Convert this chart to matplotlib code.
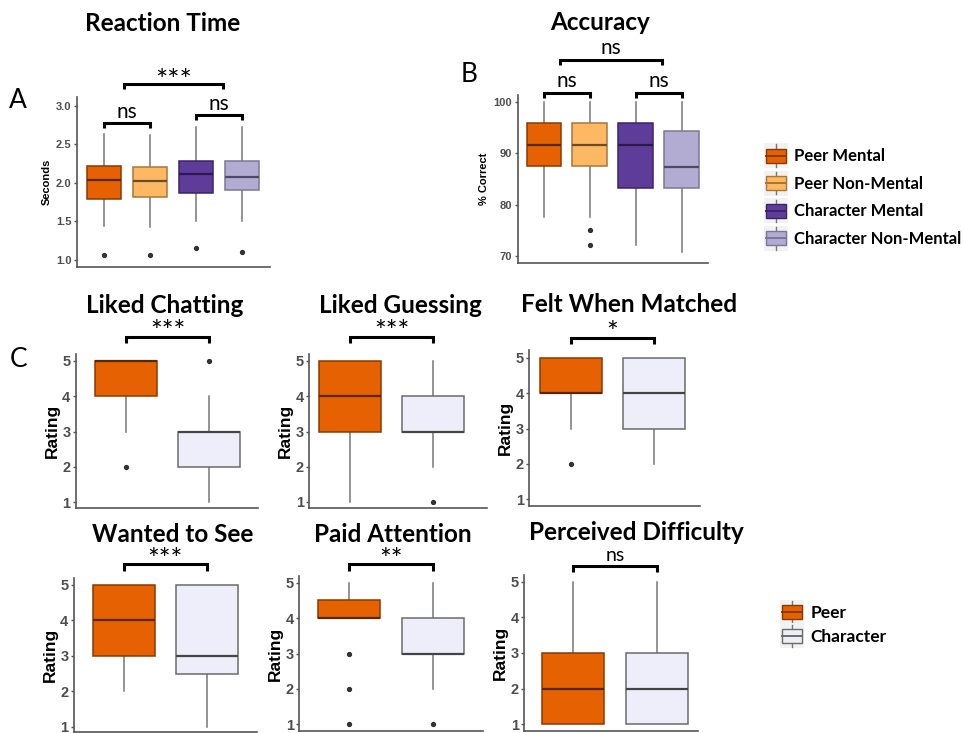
import matplotlib
matplotlib.use("Agg")
import matplotlib.pyplot as plt
from matplotlib.patches import Patch, Rectangle
from matplotlib.lines import Line2D
from matplotlib.legend_handler import HandlerBase

# ---- data ----
conditions = ["Peer Mental", "Peer Non-Mental", "Character Mental", "Character Non-Mental"]
cond_colors = ["#E66101", "#FDB863", "#5E3C99", "#B2ABD2"]
cond_edges = ["#8A3A00", "#A8763A", "#3B2466", "#7C7799"]
cond_medians = ["#5A2600", "#6E4C22", "#2A1A4A", "#4E4A66"]

# reaction time (seconds)
rt_q1 = [1.785, 1.82, 1.87, 1.905]
rt_med = [2.035, 2.02, 2.11, 2.08]
rt_q3 = [2.215, 2.20, 2.285, 2.285]
rt_lo = [1.44, 1.43, 1.51, 1.51]
rt_hi = [2.63, 2.62, 2.73, 2.73]
rt_fliers = [[1.065], [1.065], [1.15], [1.10]]

# accuracy (% correct)
acc_q1 = [87.5, 87.5, 83.3, 83.3]
acc_med = [91.6, 91.6, 91.6, 87.4]
acc_q3 = [95.8, 95.8, 95.8, 94.3]
acc_lo = [77.6, 77.6, 72.1, 70.8]
acc_hi = [100, 100, 100, 100]
acc_fliers = [[], [75.0, 72.1], [], []]

groups = ["Peer", "Character"]
group_colors = ["#E66101", "#EEEDFA"]
group_edges = ["#8A3A00", "#6B6B6B"]
group_medians = ["#5A2600", "#444444"]

rating_titles = ["Liked Chatting", "Liked Guessing", "Felt When Matched",
                 "Wanted to See", "Paid Attention", "Perceived Difficulty"]
rating_sig = ["***", "***", "*", "***", "**", "ns"]
# [peer, character] per question
rating_q1 = [[4, 2], [3, 3], [4, 3], [3, 2.5], [4, 3], [1, 1]]
rating_med = [[5, 3], [4, 3], [4, 4], [4, 3], [4, 3], [2, 2]]
rating_q3 = [[5, 3], [5, 4], [5, 5], [5, 5], [4.5, 4], [3, 3]]
rating_lo = [[3, 1], [1, 2], [3, 2], [2, 1], [4, 2], [1, 1]]
rating_hi = [[5, 4], [5, 5], [5, 5], [5, 5], [5, 5], [5, 5]]
rating_fliers = [[[2], [5]], [[], [1]], [[2], []], [[], []], [[3, 2, 1], [1]], [[], []]]

W, H = 964, 733
fig = plt.figure(figsize=(W / 100, H / 100), dpi=100)
fig.patch.set_facecolor("white")

TITLE_FONT = ["Lato", "DejaVu Sans"]
AXIS_FONT = ["Liberation Sans", "DejaVu Sans"]
TICK_GREY = "#4D4D4D"


def fx(px):
    return px / W


def fy(py):
    return 1 - py / H


def make_axes(left, right, top, bottom, xpx, xval, ypx, yval):
    # pixel geometry -> axes with limits so the given pixels land on the given values
    ax = fig.add_axes([fx(left), fy(bottom), fx(right - left), (bottom - top) / H])
    sx = (xval[1] - xval[0]) / (xpx[1] - xpx[0])
    sy = (yval[1] - yval[0]) / (ypx[1] - ypx[0])
    ax.set_xlim(xval[0] + (left - xpx[0]) * sx, xval[0] + (right - xpx[0]) * sx)
    ax.set_ylim(yval[0] + (bottom - ypx[0]) * sy, yval[0] + (top - ypx[0]) * sy)
    for s in ["top", "right"]:
        ax.spines[s].set_visible(False)
    for s in ["left", "bottom"]:
        ax.spines[s].set_color("#555555")
        ax.spines[s].set_linewidth(1.2)
    ax.tick_params(axis="y", length=2.5, width=1, color="#555555", colors=TICK_GREY, pad=1.5)
    return ax, sx


def draw_boxes(ax, q1, med, q3, lo, hi, fliers, width, fills, edges, meds):
    stats = []
    for i in range(len(q1)):
        stats.append(dict(q1=q1[i], med=med[i], q3=q3[i], whislo=lo[i], whishi=hi[i],
                          fliers=fliers[i]))
    pos = list(range(1, len(q1) + 1))
    bp = ax.bxp(stats, positions=pos, widths=width, patch_artist=True, showcaps=False,
                manage_ticks=False,
                whiskerprops=dict(color="#777777", linewidth=1.1),
                flierprops=dict(marker="o", markersize=2.8, markerfacecolor="#333333",
                                markeredgecolor="#333333"),
                medianprops=dict(linewidth=1.6))
    for i, b in enumerate(bp["boxes"]):
        b.set_facecolor(fills[i])
        b.set_edgecolor(edges[i])
        b.set_linewidth(1.1)
        bp["medians"][i].set_color(meds[i])
    for w in bp["whiskers"]:
        w.set_zorder(1)
    ax.set_xticks([])


def bracket(ax, x1, x2, y, drop, label, text_dy, size):
    ax.plot([x1, x1, x2, x2], [y - drop, y, y, y - drop], color="black", lw=2.2,
            clip_on=False, solid_capstyle="butt", solid_joinstyle="miter")
    ax.text((x1 + x2) / 2, y + text_dy, label, ha="center", va="baseline",
            fontsize=size, family=TITLE_FONT, clip_on=False)


# ---- panel A: reaction time ----
axA, _ = make_axes(77, 270, 97, 267, (104, 242), (1, 4), (105.7, 260), (3.0, 1.0))
draw_boxes(axA, rt_q1, rt_med, rt_q3, rt_lo, rt_hi, rt_fliers, 0.76,
           cond_colors, cond_edges, cond_medians)
axA.set_yticks([1.0, 1.5, 2.0, 2.5, 3.0])
axA.set_yticklabels(["1.0", "1.5", "2.0", "2.5", "3.0"], fontsize=8, fontweight="bold",
                    family=AXIS_FONT)
axA.set_ylabel("Seconds", fontsize=8, fontweight="bold", family=AXIS_FONT, labelpad=3)
bracket(axA, 1, 2, 2.78, 0.065, "ns", 0.06, 15)
bracket(axA, 3, 4, 2.88, 0.065, "ns", 0.06, 15)
bracket(axA, 1.43, 3.58, 3.28, 0.065, "***", -0.08, 21)

# ---- panel B: accuracy ----
axB, _ = make_axes(517.7, 708, 95, 263, (544, 681.7), (1, 4), (101.7, 256), (100, 70))
draw_boxes(axB, acc_q1, acc_med, acc_q3, acc_lo, acc_hi, acc_fliers, 0.76,
           cond_colors, cond_edges, cond_medians)
axB.set_yticks([70, 80, 90, 100])
axB.set_yticklabels(["70", "80", "90", "100"], fontsize=8, fontweight="bold", family=AXIS_FONT)
axB.set_ylabel("% Correct", fontsize=8, fontweight="bold", family=AXIS_FONT, labelpad=3)
bracket(axB, 1, 2, 101.75, 1.0, "ns", 1.1, 15)
bracket(axB, 3, 4, 101.75, 1.0, "ns", 1.1, 15)
bracket(axB, 1.35, 3.56, 108.1, 1.0, "ns", 1.1, 15)

# ---- panel C: ratings ----
# pixel geometry per panel: axis left, box1 x, box2 x, right, top, y of 5, y of 1, bottom
c_geom = [
    (76, 125.7, 209.3, 258, 354, 361, 502.3, 508),
    (309.3, 350, 433.3, 486.7, 354, 361, 502, 508),
    (529.3, 571, 654.3, 700, 350, 357.7, 499.3, 506),
    (74, 124, 206.7, 257, 578, 585, 726.7, 732),
    (299.3, 349, 432.7, 483, 576, 582.7, 724.3, 731),
    (524.3, 573.3, 656.7, 698, 575, 581.7, 724.3, 731),
]
bracket_y = [5.69, 5.69, 5.57, 5.58, 5.52, 5.44]
title_xy = [(165, 312.7), (400, 312.7), (629, 311.7), (173, 541.7), (393, 541.7), (636, 540)]

for k in range(6):
    left, c1, c2, right, top, y5, y1, bottom = c_geom[k]
    ax, sx = make_axes(left, right, top, bottom, (c1, c2), (1, 2), (y5, y1), (5, 1))
    draw_boxes(ax, rating_q1[k], rating_med[k], rating_q3[k], rating_lo[k], rating_hi[k],
               rating_fliers[k], 62 * sx, group_colors, group_edges, group_medians)
    ax.set_yticks([1, 2, 3, 4, 5])
    ax.set_yticklabels(["1", "2", "3", "4", "5"], fontsize=10.5, fontweight="bold",
                       family=AXIS_FONT)
    ax.set_ylabel("Rating", fontsize=12.5, fontweight="bold", family=AXIS_FONT, labelpad=2)
    if rating_sig[k] == "ns":
        bracket(ax, 1, 2, bracket_y[k], 0.18, rating_sig[k], 0.15, 14)
    else:
        bracket(ax, 1, 2, bracket_y[k], 0.18, rating_sig[k], -0.12, 20)
    fig.text(fx(title_xy[k][0]), fy(title_xy[k][1]), rating_titles[k], ha="center",
             va="baseline", fontsize=17.5, fontweight="bold", family=TITLE_FONT)

# ---- titles and panel letters ----
fig.text(fx(163), fy(31), "Reaction Time", ha="center", va="baseline", fontsize=17.5,
         fontweight="bold", family=TITLE_FONT)
fig.text(fx(600), fy(30), "Accuracy", ha="center", va="baseline", fontsize=17.5,
         fontweight="bold", family=TITLE_FONT)
fig.text(fx(9), fy(108), "A", ha="left", va="baseline", fontsize=19, family=TITLE_FONT)
fig.text(fx(461), fy(82), "B", ha="left", va="baseline", fontsize=19, family=TITLE_FONT)
fig.text(fx(10), fy(367), "C", ha="left", va="baseline", fontsize=19, family=TITLE_FONT)


# ---- legends with mini boxplot keys ----
class BoxKey(HandlerBase):
    def create_artists(self, legend, orig, xd, yd, width, height, fontsize, trans):
        cx = -xd + width / 2
        cy = -yd + height / 2
        bw, bh, wh = 14, 10, 16
        bg = Rectangle((cx - width / 2, cy - wh / 2 - 1), width, wh + 2,
                       facecolor="#F2F2F2", edgecolor="none", transform=trans)
        wl = Line2D([cx, cx], [cy - wh / 2, cy + wh / 2], color="#777777", lw=1,
                    transform=trans)
        box = Rectangle((cx - bw / 2, cy - bh / 2), bw, bh, facecolor=orig.get_facecolor(),
                        edgecolor=orig.get_edgecolor(), lw=1, transform=trans)
        ml = Line2D([cx - bw / 2, cx + bw / 2], [cy, cy], color=orig.get_edgecolor(), lw=1.4,
                    transform=trans)
        return [bg, wl, box, ml]


h1 = [Patch(facecolor=cond_colors[i], edgecolor=cond_edges[i]) for i in range(4)]
fig.legend(h1, conditions, loc="center left", bbox_to_anchor=(fx(764), fy(197)),
           frameon=False, handler_map={Patch: BoxKey()}, handlelength=1.45,
           handleheight=1.45, labelspacing=0.47, handletextpad=0.35, borderpad=0,
           borderaxespad=0, prop=dict(family=TITLE_FONT, weight="bold", size=12))

h2 = [Patch(facecolor=group_colors[i], edgecolor=group_edges[i]) for i in range(2)]
fig.legend(h2, groups, loc="center left", bbox_to_anchor=(fx(780), fy(624)),
           frameon=False, handler_map={Patch: BoxKey()}, handlelength=1.4,
           handleheight=1.4, labelspacing=0.2, handletextpad=0.35, borderpad=0,
           borderaxespad=0, prop=dict(family=TITLE_FONT, weight="bold", size=12.5))

fig.savefig("out.png", dpi=100)
